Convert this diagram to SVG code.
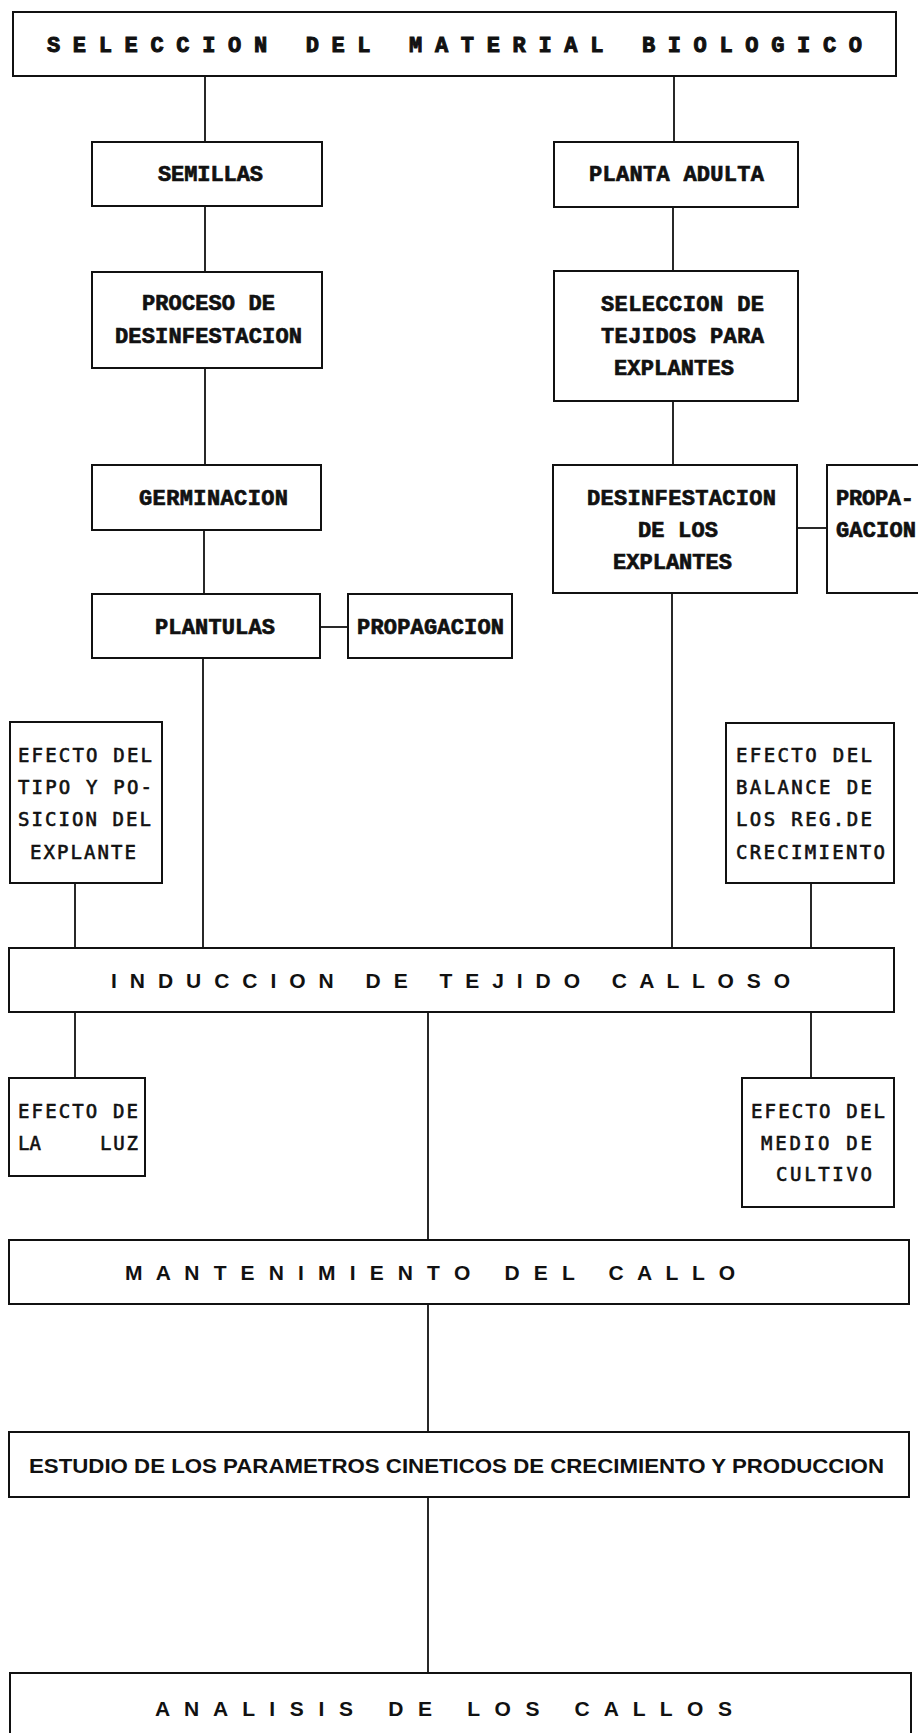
<svg xmlns="http://www.w3.org/2000/svg" width="918" height="1733" viewBox="0 0 918 1733">
<style>
.bg{fill:#fff}
.box{fill:#fff;stroke:#111;stroke-width:2}
.con line{stroke:#111;stroke-width:1.8}
.tb{font-family:"Liberation Mono","Courier New",monospace;font-weight:bold;font-size:22px;fill:#111;stroke:#111;stroke-width:0.7}
.ts{font-family:"DejaVu Sans Mono","Liberation Mono",monospace;font-size:19px;fill:#111;stroke:#111;stroke-width:0.6}
.tw{font-family:"Liberation Sans Narrow","Liberation Sans",Arial,sans-serif;font-weight:bold;font-size:21px;fill:#111;white-space:pre}
.tt{font-family:"Liberation Mono","Courier New",monospace;font-weight:bold;font-size:22px;fill:#111;stroke:#111;stroke-width:1;white-space:pre}
</style>
<rect class="bg" x="0" y="0" width="918" height="1733"/>
<g id="connectors" class="con">
<line x1="205" y1="76" x2="205" y2="142"/>
<line x1="674" y1="76" x2="674" y2="142"/>
<line x1="205" y1="206" x2="205" y2="272"/>
<line x1="205" y1="368" x2="205" y2="465"/>
<line x1="204" y1="530" x2="204" y2="594"/>
<line x1="320" y1="627" x2="348" y2="627"/>
<line x1="203" y1="658" x2="203" y2="948"/>
<line x1="673" y1="207" x2="673" y2="271"/>
<line x1="673" y1="401" x2="673" y2="465"/>
<line x1="797" y1="528" x2="827" y2="528"/>
<line x1="672" y1="593" x2="672" y2="948"/>
<line x1="75" y1="883" x2="75" y2="948"/>
<line x1="811" y1="883" x2="811" y2="948"/>
<line x1="75" y1="1012" x2="75" y2="1078"/>
<line x1="811" y1="1012" x2="811" y2="1078"/>
<line x1="428" y1="1012" x2="428" y2="1240"/>
<line x1="428" y1="1304" x2="428" y2="1432"/>
<line x1="428" y1="1497" x2="428" y2="1673"/>
</g>
<g id="n-title"><rect class="box" x="13" y="12" width="883" height="64"/>
<text class="tt" x="47" y="52" textLength="815" lengthAdjust="spacing" xml:space="preserve">S E L E C C I O N   D E L   M A T E R I A L   B I O L O G I C O</text></g>
<g id="n-semillas"><rect class="box" x="92" y="142" width="230" height="64"/>
<text class="tb" x="158" y="181" textLength="105" lengthAdjust="spacing">SEMILLAS</text></g>
<g id="n-planta"><rect class="box" x="554" y="142" width="244" height="65"/>
<text class="tb" x="589" y="181" textLength="175" lengthAdjust="spacing" xml:space="preserve">PLANTA ADULTA</text></g>
<g id="n-proceso"><rect class="box" x="92" y="272" width="230" height="96"/>
<text class="tb" x="142" y="310" textLength="133" lengthAdjust="spacing">PROCESO DE</text>
<text class="tb" x="115" y="343" textLength="187" lengthAdjust="spacing">DESINFESTACION</text></g>
<g id="n-seleccion"><rect class="box" x="554" y="271" width="244" height="130"/>
<text class="tb" x="601" y="311" textLength="163" lengthAdjust="spacing">SELECCION DE</text>
<text class="tb" x="601" y="343" textLength="163" lengthAdjust="spacing">TEJIDOS PARA</text>
<text class="tb" x="614" y="375" textLength="120" lengthAdjust="spacing">EXPLANTES</text></g>
<g id="n-germinacion"><rect class="box" x="92" y="465" width="229" height="65"/>
<text class="tb" x="139" y="505" textLength="149" lengthAdjust="spacing">GERMINACION</text></g>
<g id="n-desinf"><rect class="box" x="553" y="465" width="244" height="128"/>
<text class="tb" x="587" y="505" textLength="189" lengthAdjust="spacing">DESINFESTACION</text>
<text class="tb" x="638" y="537" textLength="80" lengthAdjust="spacing">DE LOS</text>
<text class="tb" x="613" y="569" textLength="119" lengthAdjust="spacing">EXPLANTES</text></g>
<g id="n-propa2"><rect class="box" x="827" y="465" width="100" height="128"/>
<text class="tb" x="836" y="505" textLength="78" lengthAdjust="spacing">PROPA-</text>
<text class="tb" x="836" y="537" textLength="80" lengthAdjust="spacing">GACION</text></g>
<g id="n-plantulas"><rect class="box" x="92" y="594" width="228" height="64"/>
<text class="tb" x="155" y="634" textLength="120" lengthAdjust="spacing">PLANTULAS</text></g>
<g id="n-propagacion"><rect class="box" x="348" y="594" width="164" height="64"/>
<text class="tb" x="357" y="634" textLength="147" lengthAdjust="spacing">PROPAGACION</text></g>
<g id="n-efecto-tipo"><rect class="box" x="10" y="722" width="152" height="161"/>
<text class="ts" x="18" y="762" textLength="134" lengthAdjust="spacing">EFECTO DEL</text>
<text class="ts" x="18" y="794" textLength="134" lengthAdjust="spacing">TIPO Y PO-</text>
<text class="ts" x="18" y="826" textLength="133" lengthAdjust="spacing">SICION DEL</text>
<text class="ts" x="30" y="859" textLength="106" lengthAdjust="spacing">EXPLANTE</text></g>
<g id="n-efecto-balance"><rect class="box" x="726" y="723" width="168" height="160"/>
<text class="ts" x="736" y="762" textLength="136" lengthAdjust="spacing">EFECTO DEL</text>
<text class="ts" x="736" y="794" textLength="136" lengthAdjust="spacing">BALANCE DE</text>
<text class="ts" x="736" y="826" textLength="136" lengthAdjust="spacing">LOS REG.DE</text>
<text class="ts" x="736" y="859" textLength="149" lengthAdjust="spacing">CRECIMIENTO</text></g>
<g id="n-induccion"><rect class="box" x="9" y="948" width="885" height="64"/>
<text class="tw" x="111" y="988" textLength="679" lengthAdjust="spacing" xml:space="preserve">I N D U C C I O N   D E   T E J I D O   C A L L O S O</text></g>
<g id="n-luz"><rect class="box" x="9" y="1078" width="136" height="98"/>
<text class="ts" x="18" y="1118" textLength="120" lengthAdjust="spacing">EFECTO DE</text>
<text class="ts" x="18" y="1150">LA</text>
<text class="ts" x="100" y="1150" textLength="38" lengthAdjust="spacing">LUZ</text></g>
<g id="n-medio"><rect class="box" x="742" y="1078" width="152" height="129"/>
<text class="ts" x="751" y="1118" textLength="134" lengthAdjust="spacing">EFECTO DEL</text>
<text class="ts" x="761" y="1150" textLength="111" lengthAdjust="spacing">MEDIO DE</text>
<text class="ts" x="776" y="1181" textLength="96" lengthAdjust="spacing">CULTIVO</text></g>
<g id="n-mantenimiento"><rect class="box" x="9" y="1240" width="900" height="64"/>
<text class="tw" x="125" y="1280" textLength="610" lengthAdjust="spacing" xml:space="preserve">M A N T E N I M I E N T O   D E L   C A L L O</text></g>
<g id="n-estudio"><rect class="box" x="9" y="1432" width="900" height="65"/>
<text class="tw" x="29" y="1473" textLength="855" lengthAdjust="spacingAndGlyphs">ESTUDIO DE LOS PARAMETROS CINETICOS DE CRECIMIENTO Y PRODUCCION</text></g>
<g id="n-analisis"><rect class="box" x="10" y="1673" width="901" height="80"/>
<text class="tw" x="155" y="1716" textLength="577" lengthAdjust="spacing" xml:space="preserve">A N A L I S I S   D E   L O S   C A L L O S</text></g>
</svg>
